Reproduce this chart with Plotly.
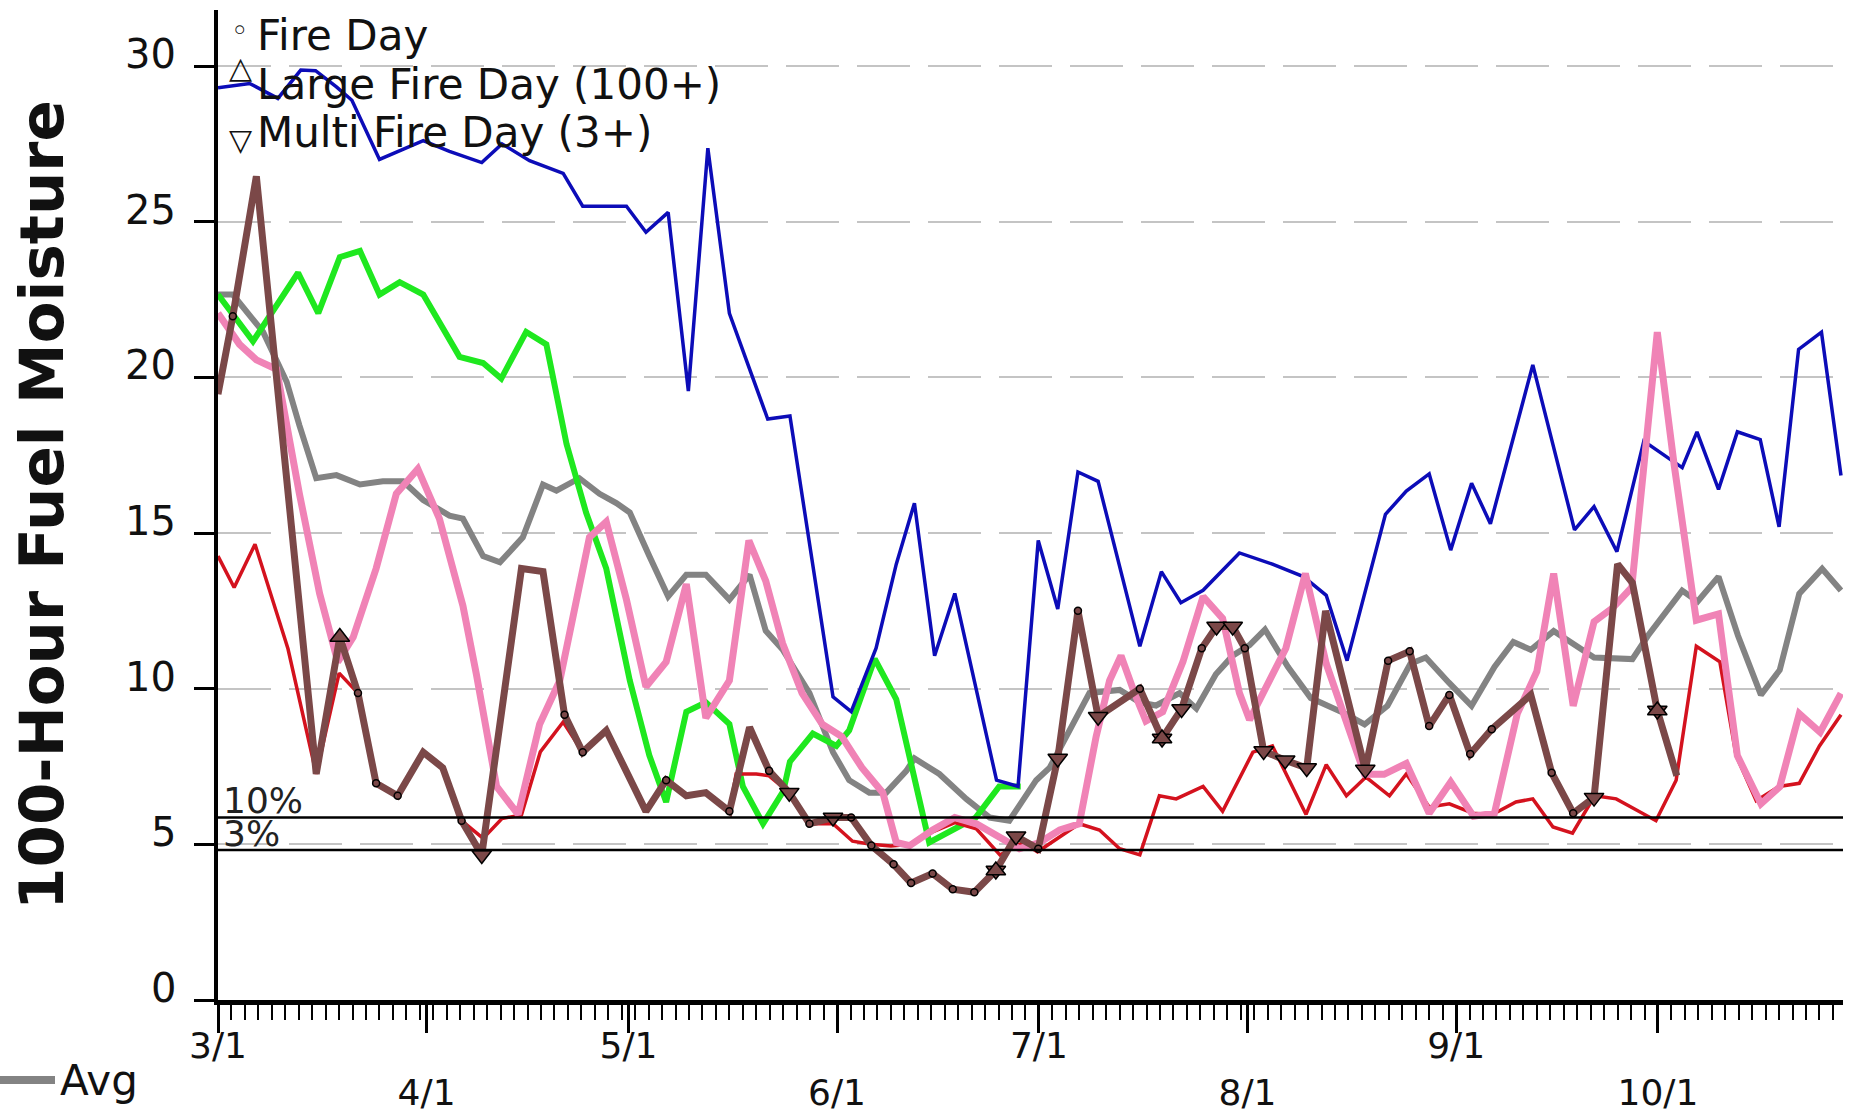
import numpy as np
import pandas as pd
import plotly.graph_objects as go

BASE = pd.Timestamp("2021-03-01")

# ---------------- data (day offset from 3/1, value) ----------------
avg_day = [0, 2.2, 6.7, 10.2, 12.1, 14.6, 17.6, 21.1, 24.5, 27.5, 30.5, 34.4, 36.4, 39.4, 41.9, 45.3, 48.3, 50.3,
           53.7, 56.7, 59.2, 61.2, 64.1, 66.9, 69.6, 72.5, 76.0, 79.0, 81.4, 83.9, 87.9, 91.4, 93.8, 96.8, 99.3,
           102.3, 103.5, 107.2, 111.2, 114.7, 117.6, 121.6, 123.6, 126.6, 129.5, 134.0, 137.0, 139.4, 142.9, 145.4,
           148.3, 150.8, 153.3, 155.6, 159.0, 162.4, 167.5, 170.4, 173.8, 177.2, 179.5, 182.9, 186.3, 189.7, 192.5,
           195.1, 198.5, 204.5, 210.2, 212.5, 217.6, 219.9, 223.0, 225.9, 229.3, 232.1, 235.0, 238.4, 241.2]
avg_val = [22.66, 22.66, 21.46, 19.86, 18.46, 16.76, 16.86, 16.56, 16.66, 16.66, 16.06, 15.56, 15.46, 14.26, 14.06,
           14.86, 16.56, 16.36, 16.76, 16.26, 15.96, 15.66, 14.26, 12.96, 13.66, 13.66, 12.86, 13.66, 11.86, 11.26,
           9.86, 7.96, 7.06, 6.66, 6.66, 7.36, 7.76, 7.26, 6.46, 5.86, 5.76, 7.06, 7.46, 8.66, 9.86, 9.96, 9.56, 9.46,
           9.86, 9.36, 10.46, 11.06, 11.4, 11.9, 10.7, 9.7, 9.2, 8.85, 9.45, 10.8, 11.0, 10.2, 9.45, 10.7, 11.5, 11.25,
           11.85, 11.0, 10.95, 11.7, 13.15, 12.8, 13.6, 11.7, 9.8, 10.6, 13.05, 13.85, 13.15]

blue_day = [0, 4.7, 8.9, 12.3, 14.5, 17.6, 19.9, 24.0, 30.5, 34.4, 39.2, 42.2, 46.3, 51.3, 54.2, 60.7, 63.6, 66.9,
            69.9, 72.8, 76.0, 81.7, 85.0, 91.4, 94.1, 97.8, 100.8, 103.5, 106.5, 109.5, 115.7, 118.9, 121.9, 124.8,
            127.8, 130.8, 137.0, 140.2, 143.1, 146.4, 151.8, 156.7, 161.3, 164.7, 167.8, 173.5, 176.6, 180.0, 183.2,
            186.3, 189.1, 195.4, 201.6, 204.5, 207.9, 211.9, 217.6, 219.8, 223.0, 225.8, 229.2, 232.0, 234.9, 238.3,
            241.2]
blue_val = [29.3, 29.44, 28.96, 29.87, 29.85, 29.33, 28.9, 27.0, 27.6, 27.26, 26.9, 27.5, 26.96, 26.55, 25.5, 25.5,
            24.66, 25.3, 19.56, 27.36, 22.06, 18.66, 18.76, 9.74, 9.26, 11.3, 14.0, 15.96, 11.06, 13.06, 7.06, 6.86,
            14.76, 12.56, 16.96, 16.66, 11.36, 13.76, 12.76, 13.16, 14.36, 14.0, 13.6, 13.0, 10.9, 15.6, 16.35, 16.9,
            14.45, 16.6, 15.3, 20.4, 15.1, 15.85, 14.4, 17.95, 17.1, 18.25, 16.4, 18.25, 18.0, 15.2, 20.9, 21.45,
            16.85]

green_day = [0, 5.2, 11.9, 14.9, 18.1, 21.1, 24.0, 27.0, 30.5, 35.9, 39.4, 42.1, 45.8, 48.8, 51.8, 54.7, 57.7,
             61.2, 64.1, 66.6, 69.6, 72.5, 76.0, 78.0, 81.0, 84.0, 85.0, 88.4, 91.9, 93.8, 97.6, 100.8, 105.7,
             112.6, 116.1, 119.3]
green_val = [22.66, 21.16, 23.36, 22.06, 23.86, 24.06, 22.66, 23.06, 22.66, 20.66, 20.46, 19.96, 21.46, 21.06,
             17.86, 15.66, 13.86, 10.26, 7.86, 6.36, 9.26, 9.56, 8.86, 6.86, 5.66, 6.7, 7.66, 8.56, 8.16, 8.66,
             10.96, 9.66, 5.06, 5.86, 6.86, 6.86]

red_day = [0, 2.4, 5.5, 10.4, 14.6, 18.0, 20.8, 23.5, 26.7, 30.5, 33.4, 36.2, 39.4, 42.2, 45.1, 47.9, 51.3, 54.2,
           57.7, 63.6, 66.6, 69.6, 72.5, 76.0, 77.0, 80.0, 81.9, 84.9, 87.9, 91.4, 94.3, 97.0, 100.0, 103.0, 106.2,
           109.5, 112.7, 116.2, 119.6, 121.8, 128.0, 131.0, 134.0, 137.0, 139.9, 142.4, 146.4, 149.3, 153.8, 156.7,
           161.7, 164.7, 167.7, 170.6, 174.1, 176.6, 180.0, 183.0, 186.5, 189.4, 192.9, 195.4, 198.4, 201.3, 204.6,
           207.8, 213.7, 216.7, 219.7, 223.2, 225.6, 228.6, 232.0, 235.0, 238.0, 241.2]
red_val = [14.26, 13.25, 14.64, 11.28, 7.26, 10.5, 9.86, 6.96, 6.56, 7.96, 7.46, 5.76, 5.19, 5.83, 5.94, 7.97, 8.93,
           7.96, 8.66, 6.06, 7.06, 6.56, 6.66, 6.06, 7.26, 7.26, 7.2, 6.66, 5.66, 5.66, 5.1, 5.0, 4.95, 5.0, 5.4,
           5.7, 5.5, 4.66, 5.06, 4.76, 5.66, 5.46, 4.86, 4.66, 6.56, 6.46, 6.86, 6.06, 7.96, 8.16, 5.96, 7.56, 6.56,
           7.16, 6.56, 7.26, 6.2, 6.3, 6.0, 5.96, 6.36, 6.46, 5.56, 5.36, 6.56, 6.46, 5.76, 7.06, 11.36, 10.86, 7.86,
           6.4, 6.86, 6.96, 8.16, 9.16]

pink_day = [0, 3.2, 5.7, 8.7, 12.1, 15.1, 17.8, 20.1, 23.5, 26.5, 29.7, 32.9, 36.4, 38.4, 41.4, 44.6, 47.8, 50.8,
            55.2, 57.7, 60.7, 63.6, 66.6, 69.6, 72.5, 76.0, 78.9, 81.4, 83.9, 86.8, 89.8, 92.7, 95.7, 98.8, 100.8,
            102.8, 106.2, 109.5, 112.7, 116.1, 119.1, 122.1, 125.1, 128.0, 130.5, 132.5, 134.2, 136.2, 137.9, 140.4,
            143.4, 146.4, 149.3, 151.8, 153.3, 158.7, 161.6, 164.7, 167.5, 170.4, 173.3, 176.6, 180.0, 183.2, 186.6,
            189.7, 193.1, 196.0, 198.5, 201.4, 204.5, 207.3, 210.1, 213.9, 216.4, 219.7, 223.0, 225.8, 229.3, 232.1,
            235.0, 238.1, 241.2]
pink_val = [22.06, 21.06, 20.56, 20.26, 16.26, 13.06, 10.86, 11.66, 13.86, 16.26, 17.06, 15.46, 12.66, 10.46, 6.86,
            5.96, 8.86, 10.26, 14.86, 15.36, 12.86, 10.06, 10.86, 13.36, 9.06, 10.26, 14.76, 13.46, 11.46, 9.86, 8.86,
            8.46, 7.46, 6.66, 5.06, 4.96, 5.46, 5.86, 5.66, 5.26, 4.86, 5.06, 5.46, 5.66, 8.46, 10.26, 11.06, 9.86,
            8.96, 9.26, 10.86, 12.96, 12.26, 9.86, 9.0, 11.3, 13.7, 10.8, 9.1, 7.25, 7.25, 7.6, 6.0, 7.0, 5.9, 6.0,
            9.2, 10.55, 13.7, 9.45, 12.15, 12.6, 13.25, 21.45, 17.2, 12.2, 12.4, 7.85, 6.3, 6.85, 9.2, 8.6, 9.85]

brown_day = [0, 2.2, 5.7, 14.6, 18.1, 20.8, 23.5, 26.7, 30.5, 33.4, 36.2, 39.2, 45.1, 48.3, 51.5, 54.2, 57.7, 63.6,
             66.6, 69.6, 72.5, 76.0, 79.0, 81.9, 84.9, 87.9, 91.4, 94.1, 97.1, 100.4, 103.0, 106.2, 109.2, 112.4,
             115.6, 118.6, 121.9, 124.8, 127.8, 130.8, 137.0, 140.3, 143.2, 146.2, 148.4, 150.8, 152.6, 155.4, 158.6,
             161.8, 164.6, 170.5, 173.9, 177.1, 180.0, 183.0, 186.1, 189.3, 195.1, 198.2, 201.4, 204.5, 208.0, 210.2,
             213.9, 216.8]
brown_val = [19.46, 21.96, 26.46, 7.26, 11.66, 9.86, 6.96, 6.56, 7.96, 7.46, 5.76, 4.66, 13.86, 13.76, 9.16, 7.96,
             8.66, 6.06, 7.06, 6.56, 6.66, 6.06, 8.76, 7.36, 6.66, 5.66, 5.86, 5.86, 4.96, 4.36, 3.76, 4.06, 3.56,
             3.46, 4.16, 5.26, 4.86, 7.76, 12.5, 9.1, 10.0, 8.4, 9.35, 11.3, 12.0, 12.0, 11.3, 8.0, 7.7, 7.45, 12.5,
             7.4, 10.9, 11.2, 8.8, 9.8, 7.9, 8.7, 9.8, 7.3, 6.0, 6.5, 14.0, 13.4, 9.3, 7.2]

fire_days = [2.2, 20.8, 23.5, 26.7, 36.2, 51.5, 54.2, 66.6, 76.0, 81.9, 87.9, 94.1, 97.1, 100.4, 103.0, 106.2,
             109.2, 112.4, 121.9, 127.8, 137.0, 146.2, 152.6, 173.9, 177.1, 180.0, 183.0, 186.1, 189.3, 198.2, 201.4]
multi_days = [39.2, 84.9, 91.4, 115.6, 118.6, 124.8, 130.8, 140.3, 143.2, 148.4, 150.8, 155.4, 158.6, 161.8, 170.5,
              204.5, 213.9]
large_days = [18.1, 115.6, 140.3, 213.9]

PCT10 = 5.86
PCT3 = 4.82

tick_dates = ["2021-03-01", "2021-04-01", "2021-05-01", "2021-06-01", "2021-07-01", "2021-08-01", "2021-09-01",
              "2021-10-01"]
tick_labels = ["3/1", "<br>4/1", "5/1", "<br>6/1", "7/1", "<br>8/1", "9/1", "<br>10/1"]
y_ticks = [0, 5, 10, 15, 20, 25, 30]

# ---------------- helpers ----------------
def to_dates(days):
    return BASE + pd.to_timedelta(np.asarray(days, dtype=float), unit="D")

PL, PR, PT, PB = 218, 1843, 10, 1000
def px(x):
    return (x - PL) / (PR - PL)
def py(y):
    return (PB - y) / (PB - PT)

FONT = "DejaVu Sans"
BROWN = "#7b4848"

fig = go.Figure()
fig.add_trace(go.Scatter(x=to_dates(avg_day), y=avg_val, mode="lines", line=dict(color="#838383", width=6)))
fig.add_trace(go.Scatter(x=to_dates(green_day), y=green_val, mode="lines", line=dict(color="#1fe81f", width=6)))
fig.add_trace(go.Scatter(x=to_dates(blue_day), y=blue_val, mode="lines", line=dict(color="#0c0cb8", width=3.5)))
fig.add_trace(go.Scatter(x=to_dates(red_day), y=red_val, mode="lines", line=dict(color="#d4121e", width=3.5)))
fig.add_trace(go.Scatter(x=to_dates(pink_day), y=pink_val, mode="lines", line=dict(color="#f083b6", width=7)))
fig.add_trace(go.Scatter(x=to_dates(brown_day), y=brown_val, mode="lines", line=dict(color=BROWN, width=7)))

fig.add_trace(go.Scatter(x=to_dates(fire_days), y=np.interp(fire_days, brown_day, brown_val), mode="markers",
                         marker=dict(symbol="circle", size=7, color=BROWN, line=dict(color="black", width=1.5))))
fig.add_trace(go.Scatter(x=to_dates(multi_days), y=np.interp(multi_days, brown_day, brown_val), mode="markers",
                         marker=dict(symbol="triangle-down", size=17, color=BROWN, line=dict(color="black", width=1.5))))
fig.add_trace(go.Scatter(x=to_dates(large_days), y=np.interp(large_days, brown_day, brown_val), mode="markers",
                         marker=dict(symbol="triangle-up", size=17, color=BROWN, line=dict(color="black", width=1.5))))

for v in (PCT10, PCT3):
    fig.add_shape(type="line", xref="paper", x0=0, x1=1, yref="y", y0=v, y1=v,
                  line=dict(color="black", width=2.5))

ann = []
ann.append(dict(text="<b>100-Hour Fuel Moisture</b>", x=px(41), y=py(505), xref="paper", yref="paper",
                textangle=-90, showarrow=False, xanchor="center", yanchor="middle",
                font=dict(family=FONT, size=61, color="#111")))
# y tick labels (sit just above their ticks, as in the reference)
for t in y_ticks:
    ann.append(dict(text=str(t), x=px(178), y=t, xref="paper", yref="y", showarrow=False,
                    xanchor="right", yanchor="middle", yshift=12,
                    font=dict(family=FONT, size=40, color="#111")))
for sym, yy in (("◦", 30), ("△", 67), ("▽", 140)):
    ann.append(dict(text=sym, x=px(240), y=py(yy), xref="paper", yref="paper", showarrow=False,
                    xanchor="center", yanchor="middle", font=dict(family=FONT, size=30, color="#111")))
for txt, yy in (("Fire Day", 36), ("Large Fire Day (100+)", 84), ("Multi Fire Day (3+)", 132)):
    ann.append(dict(text=txt, x=px(255), y=py(yy), xref="paper", yref="paper", showarrow=False,
                    xanchor="left", yanchor="middle", font=dict(family=FONT, size=42, color="#111")))
ann.append(dict(text="10%", x=px(221), y=PCT10, xref="paper", yref="y", showarrow=False, xanchor="left",
                yanchor="bottom", yshift=-5, font=dict(family=FONT, size=36, color="#222")))
ann.append(dict(text="3%", x=px(221), y=(PCT10 + PCT3) / 2, xref="paper", yref="y", showarrow=False,
                xanchor="left", yanchor="middle", yshift=0, font=dict(family=FONT, size=36, color="#222")))
ann.append(dict(text="Avg", x=px(58), y=py(1080), xref="paper", yref="paper", showarrow=False, xanchor="left",
                yanchor="middle", font=dict(family=FONT, size=42, color="#111")))
fig.add_shape(type="line", xref="paper", yref="paper", x0=px(0), x1=px(55), y0=py(1080), y1=py(1080),
              line=dict(color="#838383", width=8))

fig.update_layout(
    width=1850, height=1110,
    margin=dict(l=PL, r=1850 - PR, t=PT, b=1110 - PB, autoexpand=False),
    paper_bgcolor="white", plot_bgcolor="white",
    showlegend=False,
    annotations=ann,
    xaxis=dict(
        type="date", automargin=False,
        range=[BASE, BASE + pd.Timedelta(days=241.5)],
        tickmode="array", tickvals=tick_dates, ticktext=tick_labels,
        ticks="outside", ticklen=28, tickwidth=2.5, tickcolor="black",
        ticklabelstandoff=-18,
        showline=True, linecolor="black", linewidth=5,
        showgrid=False, zeroline=False,
        tickfont=dict(family=FONT, size=36, color="#111"),
        minor=dict(tickmode="linear", tick0="2021-03-01", dtick=2 * 86400000, ticks="outside",
                   ticklen=15, tickwidth=2, tickcolor="black", showgrid=False),
    ),
    yaxis=dict(
        automargin=False,
        range=[0, 31.8],
        tickmode="array", tickvals=y_ticks, showticklabels=False,
        ticks="outside", ticklen=20, tickwidth=3, tickcolor="black",
        showline=True, linecolor="black", linewidth=4,
        showgrid=True, gridcolor="#c4c4c4", gridwidth=2, griddash="53px,18px",
        zeroline=False,
    ),
)

fig.write_html("out.html", config={"displayModeBar": False},
               post_script="document.body.style.margin='0px';")
